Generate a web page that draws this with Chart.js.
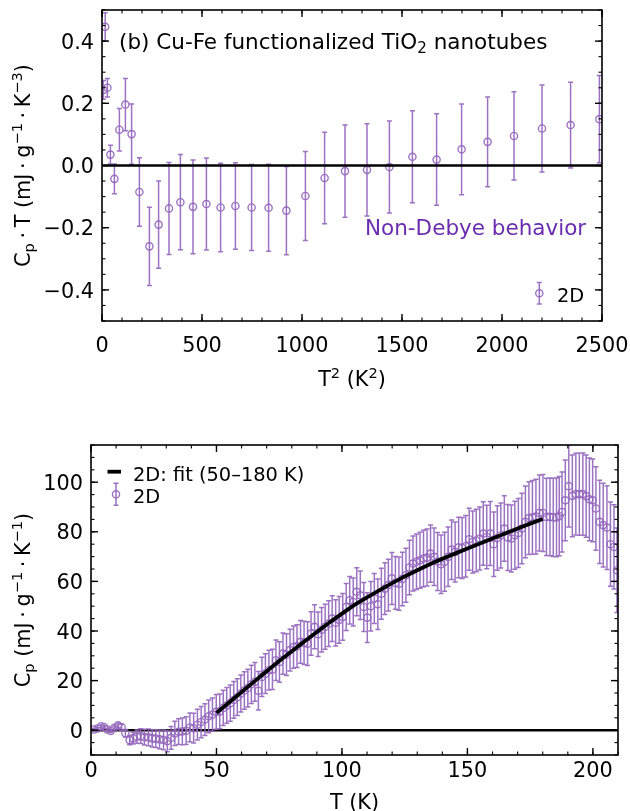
<!DOCTYPE html>
<html><head><meta charset="utf-8">
<script src="https://cdn.jsdelivr.net/npm/chart.js@4.4.0/dist/chart.umd.min.js"></script>
<style>
html,body{margin:0;padding:0;background:#fff;}
body{width:630px;height:811px;position:relative;overflow:hidden;}
canvas{position:absolute;left:0;}
#c1{top:0;} #c2{top:390px;}
</style></head><body>
<canvas id="c1" width="630" height="400"></canvas>
<canvas id="c2" width="630" height="421"></canvas>
<script>
// ---------------- Top panel: Cp·T vs T^2 ----------------
const topT2  = [7, 16, 27, 42, 62, 87, 117, 148, 187, 237, 283, 335, 392, 455, 522, 593, 667, 748, 833, 922,
                1017, 1113, 1215, 1325, 1437, 1552, 1673, 1798, 1928, 2060, 2200, 2343, 2487];
const topVal = [0.243, 0.446, 0.250, 0.035, -0.043, 0.115, 0.196, 0.101, -0.085, -0.260, -0.190, -0.138, -0.118,
                -0.133, -0.124, -0.135, -0.130, -0.135, -0.136, -0.145, -0.098, -0.040, -0.018, -0.014, -0.005,
                0.028, 0.019, 0.052, 0.076, 0.095, 0.119, 0.130, 0.149];
const topErr = [0.030, 0.045, 0.030, 0.030, 0.048, 0.068, 0.084, 0.097, 0.110, 0.126, 0.140, 0.148, 0.153,
                0.151, 0.148, 0.142, 0.139, 0.138, 0.140, 0.142, 0.143, 0.147, 0.148, 0.148, 0.148,
                0.148, 0.147, 0.146, 0.144, 0.142, 0.140, 0.138, 0.140];
const topXRange = [0, 2500];
const topYRange = [-0.5, 0.5];
const topXTicks = [0, 500, 1000, 1500, 2000, 2500];
const topXTickLabels = ['0', '500', '1000', '1500', '2000', '2500'];
const topYTicks = [-0.4, -0.2, 0, 0.2, 0.4];
const topYTickLabels = ['\u22120.4', '\u22120.2', '0.0', '0.2', '0.4'];

// ---------------- Bottom panel: Cp vs T ----------------
const botT = [1.2, 2.6, 4.0, 5.2, 6.5, 7.9, 9.3, 10.8, 12.2, 13.7, 15.4, 16.8, 18.3, 19.8, 21.3, 22.9, 24.4, 25.8,
  27.3, 28.9, 30.4, 31.9, 33.4, 34.9, 36.4, 37.9, 39.4, 40.9, 42.4, 43.9, 45.4, 46.9, 48.4, 49.9,
  51.3, 52.7, 54.1, 55.5, 56.9, 58.3, 59.7, 61.1, 62.5, 63.9, 65.3, 66.7, 68.1, 69.5, 70.9, 72.3, 73.7, 75.1,
  76.5, 77.9, 79.3, 80.7, 82.1, 83.5, 84.9, 86.3, 87.7, 89.1, 90.5, 91.9, 93.3, 94.7, 96.1, 97.5, 98.9, 100.3,
  101.7, 103.1, 104.5, 105.9, 107.3, 108.7, 110.1, 111.5, 112.9, 114.3, 115.7, 117.1, 118.5, 119.9, 121.3,
  122.7, 124.1, 125.5, 126.9, 128.3, 129.7, 131.1, 132.5, 133.9, 135.3, 136.7, 138.1, 139.5, 140.9, 142.3,
  143.7, 145.1, 146.5, 147.9, 149.3, 150.7, 152.1, 153.5, 154.9, 156.3, 157.7, 159.1, 160.5, 161.9, 163.3,
  164.7, 166.1, 167.5, 168.9, 170.3, 171.7, 173.1, 174.5, 175.9, 177.3, 178.7, 180.1, 181.5, 182.9, 184.2,
  185.5, 186.6, 187.7, 189.0, 190.4, 191.8, 193.2, 194.6, 196.0, 197.3, 198.6, 199.9, 201.2, 202.7, 204.1,
  205.6, 207.0, 208.4, 209.6];
const botCp = [0.3, 0.7, 1.6, 1.3, 0.3, -0.3, 1.0, 2.0, 1.2, -1.2, -4.0, -3.2, -2.6, -2.4, -2.8, -2.9, -3.3, -3.4,
  -3.7, -3.9, -4.4, -3.1, -1.3, -0.6, -0.5, -0.2, 1.1, 0.8, 2.2, 3.3, 4.3, 5.6, 6.3, 7.4,
  7.6, 9.0, 10.0, 10.9, 12.2, 13.3, 14.8, 16.0, 17.0, 18.5, 19.5, 15.9, 21.5, 22.8, 24.2, 24.5, 28.2, 27.5,
  30.9, 30.5, 32.3, 33.5, 33.9, 35.6, 35.2, 34.9, 39.0, 41.7, 38.7, 40.5, 41.7, 43.0, 45.0, 43.3, 44.5, 45.7,
  49.7, 52.4, 51.7, 55.8, 54.4, 49.7, 45.4, 50.0, 53.1, 50.8, 55.0, 57.1, 58.5, 61.2, 59.4,
  59.1, 61.0, 62.5, 65.6, 67.2, 67.9, 68.5, 69.2, 69.6, 71.2, 69.9, 68.0, 66.9, 67.9, 69.9,
  72.8, 71.9, 73.7, 73.5, 74.2, 77.0, 75.9, 76.5, 77.3, 79.3, 77.9, 79.3, 75.0, 77.5, 78.5,
  81.3, 77.7, 77.3, 78.6, 79.5, 81.3, 84.0, 85.5, 85.8, 86.1, 87.6, 87.6, 86.0, 86.0, 85.8,
  85.8, 86.3, 88.0, 92.7, 98.4, 94.5, 95.2, 95.2, 95.2, 94.4, 93.1, 92.7, 89.4, 84.0, 82.7,
  81.7, 75.0, 73.9, 64.5];
const botErr = [0.4, 0.4, 0.5, 0.5, 0.5, 0.6, 0.7, 0.9, 1.2, 1.5, 1.9, 2.4, 2.7, 3.0, 3.2, 3.4, 3.5, 3.6,
  3.8, 4.0, 4.3, 4.6, 4.9, 5.2, 5.4, 5.6, 5.8, 6.0, 6.2, 6.3, 6.4, 6.6, 6.7, 7.0,
  7.0, 7.1, 7.2, 7.3, 7.4, 7.4, 7.5, 7.6, 7.6, 7.7, 7.8, 7.8, 7.9, 8.0, 8.0, 8.1, 8.2, 8.2,
  8.3, 8.4, 8.4, 8.5, 8.6, 8.6, 8.7, 8.8, 8.8, 8.9, 9.0, 9.0, 9.1, 9.2, 9.2, 9.3, 9.4, 9.4,
  9.5, 9.6, 9.7, 9.7, 9.8, 9.9, 10.0, 10.0, 10.1, 10.2, 10.3, 10.4, 10.4, 10.5, 10.6,
  10.7, 10.8, 10.9, 11.0, 11.1, 11.2, 11.3, 11.4, 11.5, 11.5, 11.6, 11.7, 11.8, 11.9, 12.0,
  12.0, 12.1, 12.2, 12.3, 12.4, 12.5, 12.5, 12.6, 12.7, 12.8, 12.8, 12.9, 13.0, 13.0, 13.1,
  13.2, 13.3, 13.5, 13.7, 13.9, 14.2, 14.5, 14.7, 14.9, 15.1, 15.3, 15.5, 15.6, 15.7, 15.8,
  15.9, 16.0, 16.1, 16.3, 16.5, 16.5, 16.5, 16.6, 16.6, 16.6, 16.7, 16.7, 16.8, 16.8, 16.9,
  16.9, 17.0, 17.0, 17.0];
const fitT  = [50, 55, 60, 65, 70, 75, 80, 85, 90, 95, 100, 105, 110, 115, 120, 125, 130, 135, 140, 145,
               150, 155, 160, 165, 170, 175, 180];
const fitCp = [7.0, 11.2, 15.4, 19.6, 23.8, 27.9, 31.8, 35.8, 39.6, 43.4, 47.0, 50.5, 53.6, 56.5, 59.3, 62.0,
               64.5, 66.9, 69.1, 71.2, 73.3, 75.3, 77.3, 79.3, 81.3, 83.3, 85.2];
const botXRange = [0, 210];
const botYRange = [-10, 115];
const botXTicks = [0, 50, 100, 150, 200];
const botXTickLabels = ['0', '50', '100', '150', '200'];
const botYTicks = [0, 20, 40, 60, 80, 100];
const botYTickLabels = ['0', '20', '40', '60', '80', '100'];

// ---------------- styling ----------------
const FONT = 'DejaVu Sans';
const PURPLE = 'rgba(148,103,189,0.92)';
const DARKPURPLE = '#6b2db0';
const TICKFS = 20.8, LABELFS = 20.8, TEXTFS = 21.5, LEGFS = 19.4;

function range(a, b, s) { const r = []; for (let v = a; v <= b + 1e-9; v += s) r.push(+v.toFixed(6)); return r; }

function segW(ctx, s, size) {
  if (s.gap) return s.gap;
  const fs = (s.sub || s.sup) ? size * 0.7 : size; ctx.font = fs + 'px "' + FONT + '"';
  return ctx.measureText(s.t).width;
}
function richWidth(ctx, segs, size) { let w = 0; for (const s of segs) w += segW(ctx, s, size); return w; }
function drawRich(ctx, segs, x, y, size, align, color) {
  const w = richWidth(ctx, segs, size);
  let cx = align === 'center' ? x - w / 2 : (align === 'right' ? x - w : x);
  ctx.textAlign = 'left'; ctx.textBaseline = 'alphabetic'; ctx.fillStyle = color;
  for (const s of segs) {
    const sw = segW(ctx, s, size);
    if (!s.gap) {
      const dy = s.sub ? size * 0.22 : (s.sup ? -size * 0.38 : 0);
      ctx.fillText(s.t, cx, y + dy);
    }
    cx += sw;
  }
}
function errMarker(ctx, x, y, half) {
  ctx.strokeStyle = PURPLE; ctx.lineWidth = 1.5;
  ctx.beginPath(); ctx.moveTo(x, y - half); ctx.lineTo(x, y + half);
  ctx.moveTo(x - 2.5, y - half); ctx.lineTo(x + 2.5, y - half);
  ctx.moveTo(x - 2.5, y + half); ctx.lineTo(x + 2.5, y + half); ctx.stroke();
  ctx.beginPath(); ctx.arc(x, y, 3.6, 0, Math.PI * 2); ctx.lineWidth = 1.4; ctx.stroke();
}

function makeDecor(cfg) {
  return {
    id: 'decor',
    beforeDatasetDraw(chart, args) {
      if (args.index !== cfg.errIndex) return;
      const ctx = chart.ctx, a = chart.chartArea, xs = chart.scales.x, ys = chart.scales.y;
      ctx.save();
      ctx.beginPath(); ctx.rect(a.left, a.top, a.right - a.left, a.bottom - a.top); ctx.clip();
      ctx.strokeStyle = PURPLE; ctx.lineWidth = 1.5;
      ctx.beginPath();
      cfg.ex.forEach((xv, i) => {
        const px = xs.getPixelForValue(xv);
        const y1 = ys.getPixelForValue(cfg.ey[i] + cfg.ee[i]);
        const y2 = ys.getPixelForValue(cfg.ey[i] - cfg.ee[i]);
        ctx.moveTo(px, y1); ctx.lineTo(px, y2);
        ctx.moveTo(px - 2.5, y1); ctx.lineTo(px + 2.5, y1);
        ctx.moveTo(px - 2.5, y2); ctx.lineTo(px + 2.5, y2);
      });
      ctx.stroke();
      ctx.restore();
    },
    afterDraw(chart) {
      const ctx = chart.ctx, a = chart.chartArea, xs = chart.scales.x, ys = chart.scales.y;
      ctx.save();
      ctx.strokeStyle = '#000';
      const tick = (x1, y1, x2, y2) => { ctx.beginPath(); ctx.moveTo(x1, y1); ctx.lineTo(x2, y2); ctx.stroke(); };
      ctx.lineWidth = 1.1;
      cfg.xMinor.forEach(v => { const p = xs.getPixelForValue(v); tick(p, a.bottom, p, a.bottom - 3.5); tick(p, a.top, p, a.top + 3.5); });
      cfg.yMinor.forEach(v => { const p = ys.getPixelForValue(v); tick(a.left, p, a.left + 3.5, p); tick(a.right, p, a.right - 3.5, p); });
      ctx.lineWidth = 1.4;
      cfg.xMajor.forEach(v => { const p = xs.getPixelForValue(v); tick(p, a.bottom, p, a.bottom - 7); tick(p, a.top, p, a.top + 7); });
      cfg.yMajor.forEach(v => { const p = ys.getPixelForValue(v); tick(a.left, p, a.left + 7, p); tick(a.right, p, a.right - 7, p); });
      ctx.lineWidth = 1.6;
      ctx.strokeRect(a.left, a.top, a.right - a.left, a.bottom - a.top);
      // tick labels
      ctx.fillStyle = '#000'; ctx.font = TICKFS + 'px "' + FONT + '"'; ctx.textBaseline = 'alphabetic';
      ctx.textAlign = 'center';
      cfg.xMajor.forEach((v, i) => ctx.fillText(cfg.xLabels[i], xs.getPixelForValue(v), a.bottom + cfg.xLabelGap));
      ctx.textAlign = 'right';
      cfg.yMajor.forEach((v, i) => ctx.fillText(cfg.yLabels[i], a.left - 8, ys.getPixelForValue(v) + 7.6));
      // axis titles
      drawRich(ctx, cfg.xTitle, (a.left + a.right) / 2, a.bottom + cfg.xTitleGap, LABELFS, 'center', '#000');
      ctx.save();
      ctx.translate(cfg.yTitleX, (a.top + a.bottom) / 2); ctx.rotate(-Math.PI / 2);
      drawRich(ctx, cfg.yTitle, 0, 7.5, LABELFS, 'center', '#000');
      ctx.restore();
      // panel texts and legend
      cfg.extra(ctx, a);
      ctx.restore();
    }
  };
}

const DOT = [{ gap: 4.6 }, { t: '\u00b7' }, { gap: 4.6 }];

// ---------- top chart ----------
new Chart(document.getElementById('c1'), {
  type: 'scatter',
  data: {
    datasets: [
      { data: topXRange.map(x => ({ x, y: 0 })), showLine: true, borderColor: '#000', borderWidth: 2.5, pointRadius: 0, clip: 0 },
      { data: topT2.map((x, i) => ({ x, y: topVal[i] })), pointStyle: 'circle', pointRadius: 3.6, pointBorderWidth: 1.4,
        pointBorderColor: PURPLE, pointBackgroundColor: 'rgba(0,0,0,0)', showLine: false, clip: 0 }
    ]
  },
  options: {
    responsive: false, animation: false, devicePixelRatio: 1, events: [],
    layout: { padding: { left: 102, right: 28, top: 10, bottom: 79 } },
    plugins: { legend: { display: false }, tooltip: { enabled: false } },
    scales: {
      x: { type: 'linear', min: topXRange[0], max: topXRange[1], grid: { display: false, drawTicks: false }, border: { display: false },
           ticks: { display: false }, afterFit: s => { s.height = 0; } },
      y: { type: 'linear', min: topYRange[0], max: topYRange[1], grid: { display: false, drawTicks: false }, border: { display: false },
           ticks: { display: false }, afterFit: s => { s.width = 0; } }
    }
  },
  plugins: [makeDecor({
    errIndex: 1, ex: topT2, ey: topVal, ee: topErr,
    xMajor: topXTicks, xLabels: topXTickLabels, xMinor: range(0, 2500, 100),
    yMajor: topYTicks, yLabels: topYTickLabels, yMinor: range(-0.5, 0.5, 0.05),
    xLabelGap: 30.5, xTitleGap: 65,
    xTitle: [{ t: 'T' }, { t: '2', sup: true }, { t: ' (K' }, { t: '2', sup: true }, { t: ')' }],
    yTitleX: 22,
    yTitle: [{ t: 'C' }, { t: 'p', sub: true }, ...DOT, { t: 'T (mJ' }, ...DOT, { t: 'g' }, { t: '\u22121', sup: true }, ...DOT, { t: 'K' }, { t: '\u22123', sup: true }, { t: ')' }],
    extra(ctx, a) {
      drawRich(ctx, [{ t: '(b) Cu-Fe functionalized TiO' }, { t: '2', sub: true }, { t: ' nanotubes' }], 119, 48.5, TEXTFS, 'left', '#000');
      drawRich(ctx, [{ t: 'Non-Debye behavior' }], 365, 235, TEXTFS, 'left', DARKPURPLE);
      errMarker(ctx, 539.3, 293.3, 10.7);
      drawRich(ctx, [{ t: '2D' }], 557, 301.5, LEGFS, 'left', '#000');
    }
  })]
});

// ---------- bottom chart ----------
new Chart(document.getElementById('c2'), {
  type: 'scatter',
  data: {
    datasets: [
      { data: fitT.map((x, i) => ({ x, y: fitCp[i] })), showLine: true, borderColor: '#000', borderWidth: 3.8, pointRadius: 0, clip: 0 },
      { data: botT.map((x, i) => ({ x, y: botCp[i] })), pointStyle: 'circle', pointRadius: 3.6, pointBorderWidth: 1.4,
        pointBorderColor: PURPLE, pointBackgroundColor: 'rgba(0,0,0,0)', showLine: false, clip: 0 },
      { data: botXRange.map(x => ({ x, y: 0 })), showLine: true, borderColor: '#000', borderWidth: 2.5, pointRadius: 0, clip: 0 }
    ]
  },
  options: {
    responsive: false, animation: false, devicePixelRatio: 1, events: [],
    layout: { padding: { left: 91, right: 12, top: 55, bottom: 56 } },
    plugins: { legend: { display: false }, tooltip: { enabled: false } },
    scales: {
      x: { type: 'linear', min: botXRange[0], max: botXRange[1], grid: { display: false, drawTicks: false }, border: { display: false },
           ticks: { display: false }, afterFit: s => { s.height = 0; } },
      y: { type: 'linear', min: botYRange[0], max: botYRange[1], grid: { display: false, drawTicks: false }, border: { display: false },
           ticks: { display: false }, afterFit: s => { s.width = 0; } }
    }
  },
  plugins: [makeDecor({
    errIndex: 1, ex: botT, ey: botCp, ee: botErr,
    xMajor: botXTicks, xLabels: botXTickLabels, xMinor: range(0, 210, 10),
    yMajor: botYTicks, yLabels: botYTickLabels, yMinor: range(-10, 115, 5),
    xLabelGap: 21.5, xTitleGap: 54,
    xTitle: [{ t: 'T (K)' }],
    yTitleX: 22,
    yTitle: [{ t: 'C' }, { t: 'p', sub: true }, { t: ' (mJ' }, ...DOT, { t: 'g' }, { t: '\u22121', sup: true }, ...DOT, { t: 'K' }, { t: '\u22121', sup: true }, { t: ')' }],
    extra(ctx, a) {
      ctx.strokeStyle = '#000'; ctx.lineWidth = 3.8;
      ctx.beginPath(); ctx.moveTo(107.5, 81.7); ctx.lineTo(121, 81.7); ctx.stroke();
      drawRich(ctx, [{ t: '2D: fit (50\u2013180 K)' }], 133, 91, LEGFS, 'left', '#000');
      errMarker(ctx, 116, 104.3, 11);
      drawRich(ctx, [{ t: '2D' }], 133, 113.3, LEGFS, 'left', '#000');
    }
  })]
});
</script>
</body></html>
